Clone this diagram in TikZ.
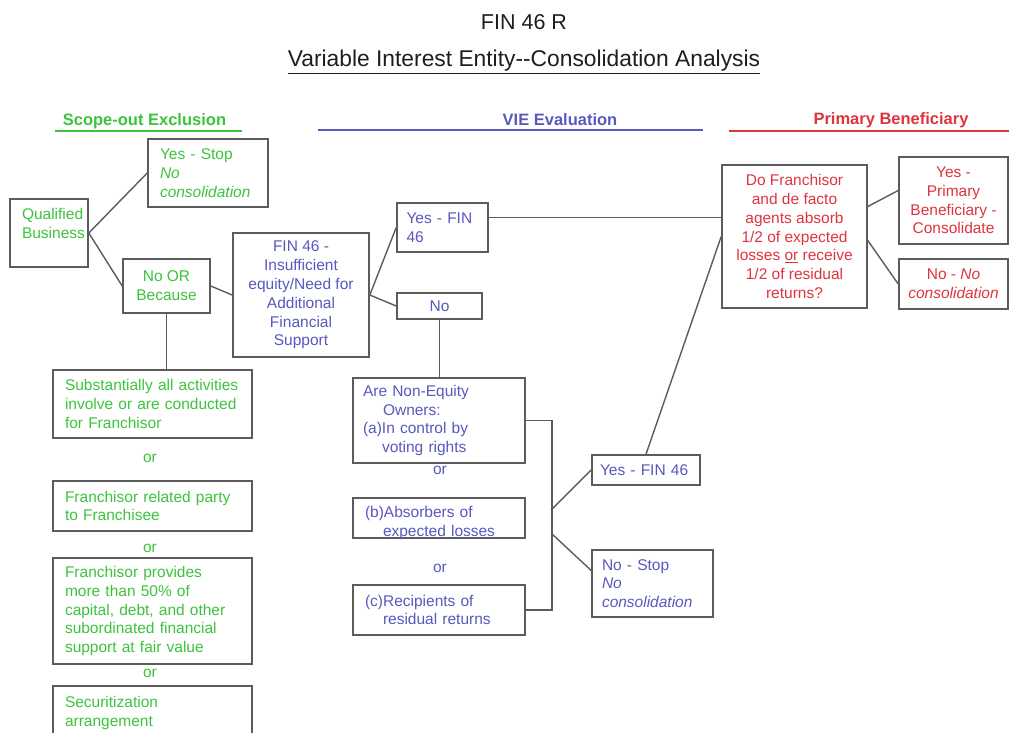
\documentclass[tikz,border=0pt]{standalone}
\usepackage{fontspec}
\setmainfont{Liberation Sans}
\usetikzlibrary{positioning}
\definecolor{scopegreen}{RGB}{60,195,60}
\definecolor{viecolor}{RGB}{88,88,190}
\definecolor{pbred}{RGB}{222,52,62}
\definecolor{boxgray}{RGB}{92,92,92}
\definecolor{titlegray}{RGB}{30,30,30}
\newcommand\boxtextsize{\fontsize{15.5}{18.8}\selectfont}
\newcommand\headtextsize{\fontsize{16.5}{19}\selectfont\bfseries}
\begin{document}
\begin{tikzpicture}[x=1pt,y=-1pt,
	box/.style={draw=boxgray,line width=1.6pt,inner sep=0pt,font=\boxtextsize},
	link/.style={draw=boxgray,line width=1.4pt},
	greentext/.style={text=scopegreen},
	bluetext/.style={text=viecolor},
	redtext/.style={text=pbred},
	ortext/.style={inner sep=0pt,font=\boxtextsize}]
	\useasboundingbox (0,0) rectangle (1009,732);
	\clip (0,0) rectangle (1009,732);
	\node[text=titlegray,font=\fontsize{21.5}{24}\selectfont] (T1) at (524,22) {FIN 46 R};
	\node[text=titlegray,font=\fontsize{22.8}{25}\selectfont] (T2) at (524,62) {\underline{Variable Interest Entity-{}-Consolidation Analysis}};
	\node[greentext,font=\headtextsize] (H1) at (144.5,121) {Scope-out Exclusion};
	\node[bluetext,font=\headtextsize] (H2) at (560,120) {VIE Evaluation};
	\node[redtext,font=\headtextsize] (H3) at (891,120) {Primary Beneficiary};
	\draw[scopegreen,line width=1.3pt] (55,131) -- (242,131);
	\draw[viecolor,line width=1.3pt] (318,130) -- (703,130);
	\draw[pbred,line width=1.3pt] (729,131) -- (1009,131);
	% scope-out column
	\node[box,greentext,minimum width=78,minimum height=68,text width=54,align=left] (QB) at (49,233) {Qualified\\Business\\~};
	\node[box,greentext,minimum width=120,minimum height=68,text width=96,align=left] (YS) at (208,173) {Yes - Stop\\\textit{No}\\\textit{consolidation}};
	\node[box,greentext,minimum width=87,minimum height=54,align=center] (NOB) at (166.5,286) {No OR\\Because};
	\node[box,greentext,minimum width=199,minimum height=68,text width=175,align=left] (S1) at (152.5,404) {Substantially all activities\\involve or are conducted\\for Franchisor};
	\node[ortext,greentext] (OR1) at (150,458) {or};
	\node[box,greentext,minimum width=199,minimum height=50,text width=175,align=left] (S2) at (152.5,506) {Franchisor related party\\to Franchisee};
	\node[ortext,greentext] (OR2) at (150,548) {or};
	\node[box,greentext,minimum width=199,minimum height=106,text width=175,align=left] (S3) at (152.5,611) {Franchisor provides\\more than 50\% of\\capital, debt, and other\\subordinated financial\\support at fair value};
	\node[ortext,greentext] (OR3) at (150,673) {or};
	\node[box,greentext,minimum width=199,minimum height=70,text width=175,align=left] (S4) at (152.5,721) {Securitization\\arrangement\\~};
	% VIE column
	\node[box,bluetext,minimum width=136,minimum height=124,align=center] (F46) at (301,295) {FIN 46 -\\Insufficient\\equity/Need for\\Additional\\Financial\\Support};
	\node[box,bluetext,minimum width=91,minimum height=49,text width=72,align=left] (YF) at (442.5,227.5) {Yes - FIN\\46};
	\node[box,bluetext,minimum width=85,minimum height=26,align=center] (NO) at (439.5,306) {No};
	\node[box,bluetext,minimum width=172,minimum height=85,text width=152,align=left] (NE) at (439,420.5) {Are Non-Equity\\\hspace*{20pt}Owners:\\(a)In control by\\\hspace*{19pt}voting rights};
	\node[ortext,bluetext] (OR4) at (440,470) {or};
	\node[box,minimum width=172,minimum height=40] (NB) at (439,518) {};
	\node[bluetext,inner sep=0pt,font=\boxtextsize,text width=148,align=left] (NBt) at (439,523) {(b)Absorbers of\\\hspace*{18pt}expected losses};
	\node[ortext,bluetext] (OR5) at (440,568) {or};
	\node[box,bluetext,minimum width=172,minimum height=50,text width=148,align=left] (NC) at (439,610) {(c)Recipients of\\\hspace*{18pt}residual returns};
	\node[box,bluetext,minimum width=108,minimum height=30,text width=92,align=left] (YF2) at (646,470) {Yes - FIN 46};
	\node[box,bluetext,minimum width=121,minimum height=67,text width=101,align=left] (NS) at (652.5,583.5) {No - Stop\\\textit{No}\\\textit{consolidation}};
	% primary beneficiary column
	\node[box,redtext,minimum width=145,minimum height=143,align=center] (DF) at (794.5,236.5) {Do Franchisor\\and de facto\\agents absorb\\1/2 of expected\\losses \underline{or} receive\\1/2 of residual\\returns?};
	\node[box,redtext,minimum width=109,minimum height=87,align=center] (YP) at (953.5,200.5) {Yes -\\Primary\\Beneficiary -\\Consolidate};
	\node[box,redtext,minimum width=109,minimum height=50,align=center] (NN) at (953.5,284) {No - \textit{No}\\\textit{consolidation}};
	\coordinate (brkA) at (551,510);
	\coordinate (brkB) at (551,533);
	\draw[link] (QB.east) -- (YS.west);
	\draw[link] (QB.east) -- (NOB.west);
	\draw[link] (NOB.east) -- (F46.west);
	\draw[link] (NOB.south) -- (NOB.south |- S1.north);
	\draw[link] (F46.east) -- (YF.west);
	\draw[link] (F46.east) -- (NO.west);
	\draw[link] ([yshift=10pt]YF.east) -- ([yshift=10pt]YF.east -| DF.west);
	\draw[link] (NO.south) -- (NO.south |- NE.north);
	\draw[link] (NE.east) -- ++(26,0) |- (NC.east);
	\draw[link] (brkA) -- (YF2.west);
	\draw[link] (brkB) -- ([yshift=13pt]NS.west);
	\draw[link] (YF2.north) -- (DF.west);
	\draw[link] ([yshift=30pt]DF.east) -- ([yshift=10pt]YP.west);
	\draw[link] ([yshift=-4pt]DF.east) -- (NN.west);
\end{tikzpicture}
\end{document}
